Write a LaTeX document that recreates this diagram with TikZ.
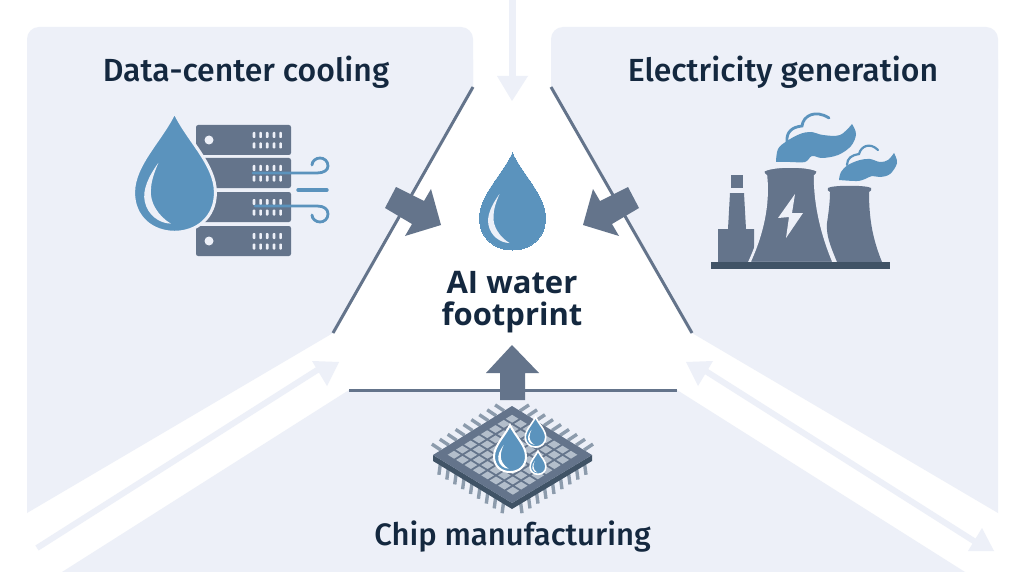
\documentclass[tikz,border=0pt]{standalone}
\usepackage{fontspec}
\newfontfamily\medf{Fira Sans Medium}
\setmainfont{Open Sans}
\definecolor{panel}{HTML}{EDF0F8}
\definecolor{slate}{HTML}{64748B}
\definecolor{dslate}{HTML}{405366}
\definecolor{water}{HTML}{5B93BD}
\definecolor{ink}{HTML}{14283F}
\definecolor{tile}{HTML}{B3BECB}
\definecolor{pincol}{HTML}{8C9BAC}
\tikzset{
  x=1pt,y=-1pt,
  panelfill/.style={fill=panel,draw=none},
  edgeline/.style={draw=slate,line width=3pt},
  block/.style={fill=slate,draw=none},
  paleflow/.style={draw=panel,line width=7pt},
  palehead/.style={fill=panel,draw=none},
  title/.style={text=ink,font=\fontsize{32}{36}\selectfont\medf,inner sep=0pt,anchor=center},
  chiptitle/.style={text=ink,font=\fontsize{31}{36}\selectfont\medf,inner sep=0pt,anchor=center},
  bigtitle/.style={text=ink,font=\fontsize{31}{34}\selectfont\bfseries,inner sep=0pt,anchor=center},
  windline/.style={draw=water,line width=2.6pt,line cap=round},
  curl/.style={draw=water,line width=2.8pt,line cap=round},
  chippin/.style={draw=pincol,line width=3.4pt},
}
\newcommand{\wdrop}[6]{%
  \begin{scope}[shift={(#1,#2)},scale=#3]
    \path[fill=water,draw=#4,line width=#5]
      (0,0) .. controls (10,22) and (33,42) .. (33,65)
      .. controls (33,85) and (18,97) .. (0,97)
      .. controls (-18,97) and (-33,85) .. (-33,65)
      .. controls (-33,42) and (-10,22) .. (0,0) -- cycle;
    \path[fill=#6]
      (-13,41) .. controls (-21,52) and (-26,63) .. (-24,72)
      .. controls (-22,83) and (-12,90) .. (-3,90)
      .. controls (-13,84) and (-20,73) .. (-19,63)
      .. controls (-19,56) and (-16,48) .. (-13,41) -- cycle;
  \end{scope}}
\newcommand{\srv}[2]{% top y, has disc
  \path[fill=slate,rounded corners=2.2pt] (196,#1) rectangle (291,#1+30);
  \foreach \lx in {254,260.6,267.2,274,280.6}{
    \path[fill=panel,rounded corners=.8pt] (\lx-1.3,#1+7) rectangle (\lx+1.3,#1+13);
    \path[fill=panel,rounded corners=.8pt] (\lx-1.3,#1+17.5) rectangle (\lx+1.3,#1+23.5);
  }
  \ifnum#2=1 \path[fill=panel] (209,#1+15) circle (4.5); \fi}
\begin{document}
\begin{tikzpicture}
\useasboundingbox[fill=white] (0,0) rectangle (1024,572);
% panels
\path[panelfill,rounded corners=12pt] (27,100) -- (27,27) -- (473,27) -- (473,100) -- cycle;
\path[panelfill] (27,60) -- (473,60) -- (473,87) -- (333,333) -- (27,513) -- cycle;
\path[panelfill,rounded corners=12pt] (551,100) -- (551,27) -- (998,27) -- (998,100) -- cycle;
\path[panelfill] (551,60) -- (998,60) -- (998,513) -- (692,333) -- (551,87) -- cycle;
\path[panelfill] (349,390) -- (677,390) -- (965,572) -- (62,572) -- cycle;
% triangle edges
\coordinate (la) at (473,87); \coordinate (lb) at (333,333);
\coordinate (ra) at (551,87); \coordinate (rb) at (692,333);
\coordinate (ba) at (349,390); \coordinate (bb) at (677,390);
\draw[edgeline] (la) -- (lb);
\draw[edgeline] (ra) -- (rb);
\draw[edgeline] (ba) -- (bb);
% pale arrows
\coordinate (t0) at (512.5,0); \coordinate (t1) at (512.5,80);
\draw[paleflow] (t0) -- (t1);
\path[palehead] (497,76) -- (528,76) -- (512,101) -- cycle;
\coordinate (l0) at (37,548); \coordinate (l1) at (322,367);
\draw[paleflow,line width=6pt] (l0) -- (l1);
\path[palehead] (312,361) -- (339,362) -- (327,386) -- cycle;
\coordinate (r0) at (704,370); \coordinate (r1) at (977,543);
\draw[paleflow,line width=6pt] (r0) -- (r1);
\path[palehead] (713,361) -- (686,362) -- (698,386) -- cycle;
\path[palehead] (982,528) -- (994,551) -- (968,551) -- cycle;
% block arrows
\path[block] (396,187) -- (424,201) -- (431,189) -- (441,225) -- (405,236) -- (412,224) -- (385,208) -- cycle;
\path[block] (628,187) -- (600,201) -- (593,189) -- (583,225) -- (619,236) -- (612,224) -- (639,208) -- cycle;
\path[block] (512,345) -- (539,373) -- (525,373) -- (525,400) -- (500,400) -- (500,373) -- (486,373) -- cycle;
% centre drop
\wdrop{512.5}{153}{1}{water}{0pt}{panel}
\node[bigtitle] (ai1) at (512,283) {AI water};
\node[bigtitle] (ai2) at (512,317) {footprint};
% titles
\node[title] (t1n) at (246,72) {Data-center cooling};
\node[title] (t2n) at (783,72) {Electricity generation};
\node[chiptitle] (t3n) at (512.5,537) {Chip manufacturing};
% servers
\srv{125}{1}\srv{158}{0}\srv{192}{0}\srv{226}{1}
\wdrop{174.5}{112}{1.24}{panel}{3pt}{panel}
\draw[curl] (253,173) -- (317,173) .. controls (324,173) and (328,170) .. (328,166) .. controls (328,161) and (324,158) .. (320,158) .. controls (316,158) and (312,161) .. (312,165);
\draw[windline,line width=3.4pt] (298,190) -- (327,190);
\draw[curl] (255,206) -- (317,206) .. controls (324,206) and (328,209) .. (328,214) .. controls (328,219) and (324,222) .. (320,222) .. controls (316,222) and (312,219) .. (312,215);
% power plant
\path[fill=slate] (731,175) rectangle (743,188);
\path[fill=slate] (730,193) -- (744,193) -- (746,229) -- (754,229) -- (754,262) -- (718,262) -- (718,229) -- (728,229) -- cycle;
\path[fill=slate] (828,188) .. controls (832,185) and (867,185) .. (871,188) .. controls (872,190) and (871,191) .. (869,192)
  .. controls (869,220) and (873,240) .. (882,262) -- (837,262) .. controls (830,245) and (826,235) .. (827,223) .. controls (829,210) and (830,200) .. (830,192) .. controls (828,191) and (827,190) .. (828,188) -- cycle;
\path[fill=slate,draw=panel,line width=2.5pt] (763,171) .. controls (770,165) and (811,165) .. (818,171) .. controls (818,174) and (816,175) .. (815,176)
  .. controls (815,205) and (822,235) .. (834,263) -- (749,263) .. controls (762,235) and (769,205) .. (766,176) .. controls (764,175) and (763,173) .. (763,171) -- cycle;
\path[fill=panel] (795,194) -- (778,218) -- (789,217) -- (786,238) -- (803,213) -- (792,213) -- cycle;
\path[fill=dslate] (711,262) rectangle (890,269);
% smoke
\path[fill=water] plot[smooth,tension=.6] coordinates {(776,162) (778,149) (787,141) (800,134) (811,132) (823,135) (840,135) (852,124)}
  -- plot[smooth,tension=.6] coordinates {(852,124) (856,134) (851,146) (838,155) (822,158) (812,156) (805,162) (790,162) (776,162)} -- cycle;
\draw[curl] (787,142) .. controls (786,132) and (792,127) .. (802,126) .. controls (803,116) and (815,109) .. (829,118);
\path[fill=water] plot[smooth,tension=.6] coordinates {(839,180) (841,172) (848,165) (860,160) (870,159) (880,162) (888,160) (894,153)}
  -- plot[smooth,tension=.6] coordinates {(894,153) (897,163) (890,174) (880,177) (872,176) (865,179) (857,181) (839,180)} -- cycle;
\draw[curl,line width=2.2pt] (847,165) .. controls (847,158) and (852,155) .. (859,154) .. controls (861,146) and (870,142) .. (878,150);
% chip pins
\foreach \k in {1,...,9}{
  \pgfmathsetmacro{\f}{\k/10}
  \draw[chippin] ({512-79*\f},{406+49*\f}) -- ++(-9,-6);
  \draw[chippin] ({512+80*\f},{406+49*\f}) -- ++(9,-6);
  \draw[chippin] ({433+79*\f},{455+48*\f}) -- ++(-2,15);
  \draw[chippin] ({592-80*\f},{455+48*\f}) -- ++(2,15);
}
% chip body
\path[fill=dslate] (433,455) -- (512,503) -- (592,455) -- (592,461) -- (512,509) -- (433,461) -- cycle;
\path[fill=slate] (512,406) -- (592,455) -- (512,503) -- (433,455) -- cycle;
\foreach \i in {0,...,7}{\foreach \j in {0,...,7}{
  \pgfmathsetmacro{\ua}{.09+\i*.105}\pgfmathsetmacro{\ub}{\ua+.08}
  \pgfmathsetmacro{\va}{.09+\j*.105}\pgfmathsetmacro{\vb}{\va+.08}
  \path[fill=tile] ({512+80*\ua-79*\va},{406+49*\ua+49*\va}) -- ({512+80*\ub-79*\va},{406+49*\ub+49*\va}) -- ({512+80*\ub-79*\vb},{406+49*\ub+49*\vb}) -- ({512+80*\ua-79*\vb},{406+49*\ua+49*\vb}) -- cycle;
}}
\wdrop{510}{425}{.485}{white}{2pt}{white}
\wdrop{535.5}{417}{.31}{white}{1.6pt}{white}
\wdrop{538}{451}{.24}{white}{1.6pt}{white}
\end{tikzpicture}
\end{document}
